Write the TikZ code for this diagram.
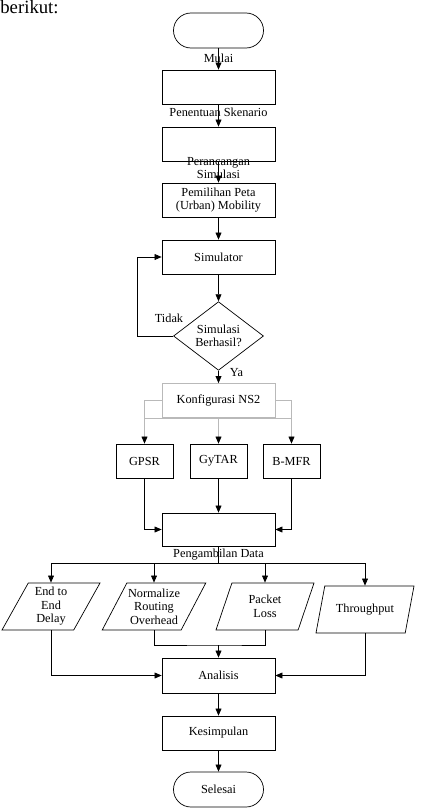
\documentclass[tikz,border=0pt]{standalone}
\usepackage{fontspec}
\setmainfont{Liberation Serif}
\usetikzlibrary{shapes.geometric,shapes.misc,arrows.meta}
\tikzset{
    proses/.style={draw,minimum width=3.39cm,minimum height=1.02cm,align=center,inner sep=1pt},
    kecil/.style={proses,minimum width=1.71cm},
    terminal/.style={draw,rounded rectangle,minimum width=2.7cm,minimum height=1.05cm,inner sep=0pt},
    keputusan/.style={draw,diamond,minimum width=2.7cm,minimum height=1.98cm,inner sep=0pt,align=center},
    dataio/.style={draw,trapezium,trapezium left angle=57,trapezium right angle=123,trapezium stretches body,
        minimum width=2.94cm,minimum height=1.41cm,inner sep=1pt,align=center},
    teks/.style={inner sep=0pt,align=center},
    arr/.style={-{Triangle[length=6pt,width=5pt]}},
    garis/.style={draw=gray!55},
    garr/.style={draw=gray!55,-{Triangle[length=6pt,width=5pt,color=black]}}
}

\begin{document}
\begin{tikzpicture}[x=0.03cm,y=-0.03cm,line width=0.6pt,font=\fontsize{10.5}{11.5}\selectfont]
        \useasboundingbox (0,0) rectangle (424,812);
        \node[anchor=base west,inner sep=0pt,font=\fontsize{16}{18}\selectfont] (judul) at (0,13.5) {berikut:};
        \node[terminal] (mulai) at (218.5,30.5) {};
        \node[teks] (tmulai) at (218.5,58) {Mulai};
        \node[proses] (skenario) at (218.5,87) {};
        \node[teks] (tskenario) at (218.5,112) {Penentuan Skenario};
        \node[proses] (rancang) at (218.5,144) {};
        \node[teks] (trancang) at (218.5,168) {Perancangan\\Simulasi};
        \node[proses] (peta) at (218.5,200) {Pemilihan Peta\\(Urban) Mobility};
        \node[proses] (sim) at (218.5,257) {Simulator};
        \node[keputusan] (cek) at (218.5,336) {Simulasi\\Berhasil?};
        \node[teks] (tidak) at (169,318) {Tidak};
        \node[teks] (ya) at (236.5,373) {Ya};
        \node[proses,draw=gray!55] (ns) at (218.5,400.5) {Konfigurasi NS2};
        \node[kecil] (gpsr) at (144.5,461) {GPSR};
        \node[kecil] (gytar) at (218.5,461) {GyTAR};
        \node[kecil] (bmfr) at (291.5,461) {B-MFR};
        \node[proses,minimum height=0.99cm] (ambil) at (218.5,529.5) {};
        \node[teks] (tambil) at (218.5,555) {Pengambilan Data};
        \node[dataio] (delay) at (51,606.5) {End to\\End\\Delay};
        \node[dataio] (nro) at (154,606.5) {Normalize\\Routing\\Overhead};
        \node[dataio] (loss) at (265,606.5) {Packet\\Loss};
        \node[dataio] (thr) at (365,609.5) {Throughput};
        \node[proses,minimum height=1.05cm] (analisis) at (218.5,675.5) {Analisis};
        \node[proses] (simpul) at (218.5,733) {Kesimpulan};
        \node[terminal] (selesai) at (218.5,789.5) {Selesai};
        \coordinate (balik) at (137,257);
        \coordinate (kiri) at (144.5,418);
        \coordinate (kanan) at (291.5,418);
        \coordinate (cabang) at (218.5,563);
        \coordinate (gabung) at (218.5,645);
        \draw[arr] (mulai) -- (skenario);
        \draw[arr] (skenario) -- (rancang);
        \draw[arr] (rancang) -- (peta);
        \draw[arr] (peta) -- (sim);
        \draw[arr] (sim) -- (cek);
        \draw[arr] (cek.west) -| (balik) -- (sim.west);
        \draw[arr] (cek) -- (ns);
        \draw[garis] (ns.west) -| (kiri) -- (kanan) |- (ns.east);
        \draw[garr] (kiri) -- (gpsr);
        \draw[garr] (ns) -- (gytar);
        \draw[garr] (kanan) -- (bmfr);
        \draw[arr] (gpsr) |- (ambil.west);
        \draw[arr] (gytar) -- (ambil);
        \draw[arr] (bmfr) |- (ambil.east);
        \draw (ambil) -- (cabang);
        \draw[arr] (cabang) -| (delay);
        \draw[arr] (cabang) -| (nro);
        \draw[arr] (cabang) -| (loss);
        \draw[arr] (cabang) -| (thr);
        \draw (nro) |- (gabung) -| (loss);
        \draw[arr] (gabung) -- (analisis);
        \draw[arr] (delay) |- (analisis.west);
        \draw[arr] (thr) |- (analisis.east);
        \draw[arr] (analisis) -- (simpul);
        \draw[arr] (simpul) -- (selesai);
\end{tikzpicture}
\end{document}
